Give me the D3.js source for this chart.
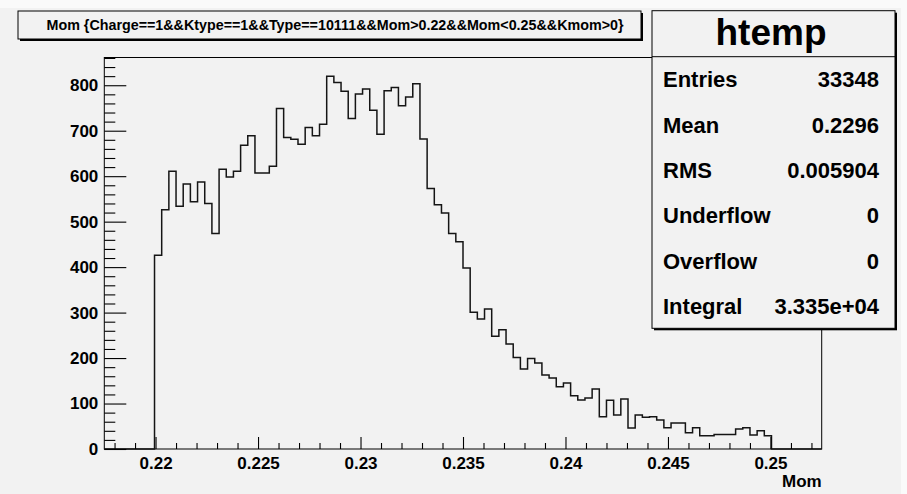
<!DOCTYPE html>
<html>
<head>
<meta charset="utf-8">
<script src="https://cdn.jsdelivr.net/npm/d3@7"></script>
<style>
  html, body { margin: 0; padding: 0; background: #fafafa; }
  svg { display: block; font-family: "Liberation Sans", Arial, Helvetica, sans-serif; font-weight: bold; }
</style>
</head>
<body>
<script>
// Histogram "htemp": 100 bins over [0.2175, 0.2525]
const binLow = 0.2175;
const binHigh = 0.2525;
const counts = [
  0, 0, 0, 0, 0, 0, 0,
  426, 526, 611, 534, 583, 544, 587, 540, 474, 615,
  598, 611, 668, 689, 607, 607, 622, 749, 685, 681,
  670, 707, 689, 714, 820, 806, 787, 727, 781, 792,
  745, 692, 788, 795, 755, 774, 803, 682, 573, 537,
  519, 474, 456, 398, 301, 286, 308, 248, 262, 231,
  201, 176, 199, 189, 163, 156, 137, 145, 117, 108,
  112, 132, 71, 107, 75, 110, 46, 75, 70, 71,
  64, 47, 57, 57, 36, 47, 29, 29, 32, 32,
  32, 44, 47, 31, 40, 29,
  0, 0, 0, 0, 0, 0, 0
];

const xTickValues = [0.22, 0.225, 0.23, 0.235, 0.24, 0.245, 0.25];
const xTickLabels = ["0.22", "0.225", "0.23", "0.235", "0.24", "0.245", "0.25"];
const yTickValues = [0, 100, 200, 300, 400, 500, 600, 700, 800];
const yTickLabels = ["0", "100", "200", "300", "400", "500", "600", "700", "800"];

const titleText = "Mom {Charge==1&&Ktype==1&&Type==10111&&Mom>0.22&&Mom<0.25&&Kmom>0}";
const xAxisTitle = "Mom";
const statsName = "htemp";
const statLabels = ["Entries", "Mean", "RMS", "Underflow", "Overflow", "Integral"];
const statValues = ["33348", "0.2296", "0.005904", "0", "0", "3.335e+04"];

const W = 907, H = 494;
const frame = { left: 104.3, right: 821.7, top: 57.5, bottom: 449 };
const bg = "#f2f2f2";

const svg = d3.select("body").append("svg").attr("width", W).attr("height", H);

// canvas pad (slightly lighter strip along the top and right edge)
svg.append("rect").attr("x", 0).attr("y", 0).attr("width", W).attr("height", H).attr("fill", "#fafafa");
svg.append("rect").attr("x", 0).attr("y", 8).attr("width", 901).attr("height", H - 8).attr("fill", bg);

const nBins = counts.length;
const binW = (binHigh - binLow) / nBins;
const yMax = d3.max(counts) * 1.05;

const x = d3.scaleLinear().domain([binLow, binHigh]).range([frame.left, frame.right]);
const y = d3.scaleLinear().domain([0, yMax]).range([frame.bottom, frame.top]);

// frame
svg.append("rect")
  .attr("x", frame.left).attr("y", frame.top)
  .attr("width", frame.right - frame.left).attr("height", frame.bottom - frame.top)
  .attr("fill", bg).attr("stroke", "#000").attr("stroke-width", 1);

// histogram outline
const pts = counts.map((c, i) => [binLow + i * binW, c]);
pts.push([binHigh, counts[nBins - 1]]);
svg.append("path")
  .attr("d", d3.line().x(d => x(d[0])).y(d => y(d[1])).curve(d3.curveStepAfter)(pts))
  .attr("fill", "none").attr("stroke", "#151515").attr("stroke-width", 1.5);

// x axis: minor ticks every 0.001, major every 0.005
const xMinor = d3.range(0.218, 0.2525, 0.001).filter(v => !xTickValues.some(t => Math.abs(t - v) < 1e-6));
const gxMinor = svg.append("g").attr("transform", `translate(0,${frame.bottom})`)
  .call(d3.axisBottom(x).tickValues(xMinor).tickSize(-6).tickSizeOuter(0).tickFormat(() => ""));
const gx = svg.append("g").attr("transform", `translate(0,${frame.bottom})`)
  .call(d3.axisBottom(x).tickValues(xTickValues).tickSize(-12).tickSizeOuter(0).tickPadding(8)
    .tickFormat((d, i) => xTickLabels[i]));

// y axis: minor ticks every 20, major every 100
const yMinor = d3.range(20, yMax, 20).filter(v => v % 100 !== 0);
const gyMinor = svg.append("g").attr("transform", `translate(${frame.left},0)`)
  .call(d3.axisLeft(y).tickValues(yMinor).tickSize(-11).tickSizeOuter(0).tickFormat(() => ""));
const gy = svg.append("g").attr("transform", `translate(${frame.left},0)`)
  .call(d3.axisLeft(y).tickValues(yTickValues).tickSize(-22).tickSizeOuter(0).tickPadding(6)
    .tickFormat((d, i) => yTickLabels[i]));

[gxMinor, gx, gyMinor, gy].forEach(g => {
  g.select(".domain").remove();
  g.selectAll("line").attr("stroke", "#000").attr("stroke-width", 1.1);
  g.selectAll("text").attr("fill", "#000").style("font-size", "17px").style("font-weight", "bold")
    .style("font-family", '"Liberation Sans", Arial, sans-serif');
});

// x axis title
svg.append("text").attr("x", frame.right).attr("y", 487)
  .attr("text-anchor", "end").style("font-size", "17px").text(xAxisTitle);

// boxes with drop shadow
function shadowBox(x0, y0, w, h) {
  svg.append("rect").attr("x", x0 + 2).attr("y", y0 + 2).attr("width", w).attr("height", h).attr("fill", "#000");
  svg.append("rect").attr("x", x0).attr("y", y0).attr("width", w).attr("height", h)
    .attr("fill", bg).attr("stroke", "#000").attr("stroke-width", 1);
}

// title box
shadowBox(18, 11, 623, 28);
svg.append("text").attr("x", 335).attr("y", 30)
  .attr("text-anchor", "middle").style("font-size", "14.3px").text(titleText);

// statistics box
const sb = { x: 652, y: 10.7, w: 243, h: 317.6 };
shadowBox(sb.x, sb.y, sb.w, sb.h);
svg.append("line").attr("x1", sb.x).attr("x2", sb.x + sb.w).attr("y1", 56.7).attr("y2", 56.7)
  .attr("stroke", "#000").attr("stroke-width", 1);
svg.append("text").attr("x", 771).attr("y", 45).attr("text-anchor", "middle")
  .style("font-size", "37px").text(statsName);

const rowY = d3.scaleLinear().domain([0, statLabels.length - 1]).range([87.3, 313.8]);
statLabels.forEach((lab, i) => {
  svg.append("text").attr("x", 663).attr("y", rowY(i)).style("font-size", "22px").text(lab);
  svg.append("text").attr("x", 879).attr("y", rowY(i)).attr("text-anchor", "end")
    .style("font-size", "22px").text(statValues[i]);
});
</script>
</body>
</html>
